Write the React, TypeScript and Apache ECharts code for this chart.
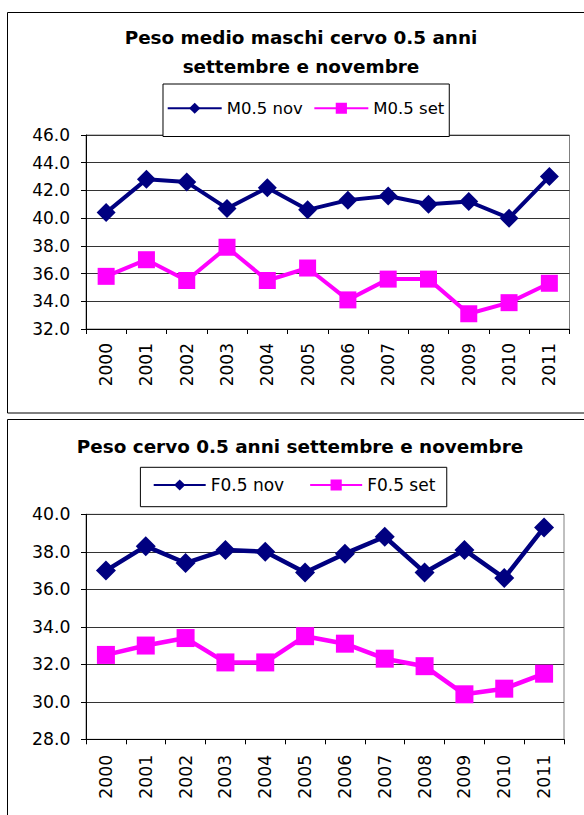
import React, { useEffect, useRef } from 'react';
import * as echarts from 'echarts';

const years = ['2000', '2001', '2002', '2003', '2004', '2005', '2006', '2007', '2008', '2009', '2010', '2011'];

const m05NovName = 'M0.5 nov';
const m05SetName = 'M0.5 set';
const m05Nov = [40.4, 42.8, 42.6, 40.7, 42.2, 40.6, 41.3, 41.6, 41.0, 41.2, 40.0, 43.0];
const m05Set = [35.8, 37.0, 35.5, 37.9, 35.5, 36.4, 34.1, 35.6, 35.6, 33.1, 33.9, 35.3];

const f05NovName = 'F0.5 nov';
const f05SetName = 'F0.5 set';
const f05Nov = [37.0, 38.3, 37.4, 38.1, 38.0, 36.9, 37.9, 38.8, 36.9, 38.1, 36.6, 39.3];
const f05Set = [32.5, 33.0, 33.4, 32.1, 32.1, 33.5, 33.1, 32.3, 31.9, 30.4, 30.7, 31.5];

const topTitle = 'Peso medio maschi cervo 0.5 anni\nsettembre e novembre';
const bottomTitle = 'Peso cervo 0.5 anni settembre e novembre';

const topYMin = 32;
const topYMax = 46;
const bottomYMin = 28;
const bottomYMax = 40;
const yStep = 2;

const NAVY = '#000080';
const MAGENTA = '#FF00FF';
const FONT = 'DejaVu Sans';

export default function App() {
  const ref = useRef<HTMLDivElement>(null);

  useEffect(() => {
    if (!ref.current) return;
    const chart = echarts.init(ref.current, null, { renderer: 'svg' });

    const mkX = (gridIndex: number, margin: number, fontSize: number) => ({
      type: 'category',
      gridIndex,
      data: years,
      boundaryGap: true,
      axisLine: { show: true, lineStyle: { color: '#000', width: 1 } },
      axisTick: { show: true, alignWithLabel: false, length: 5, lineStyle: { color: '#000' } },
      axisLabel: { rotate: 90, margin, interval: 0, fontFamily: FONT, fontSize, color: '#000' },
      splitLine: { show: false },
    });

    const mkY = (gridIndex: number, min: number, max: number, margin: number, fontSize: number) => ({
      type: 'value',
      gridIndex,
      min,
      max,
      interval: yStep,
      axisLine: { show: true, lineStyle: { color: '#000', width: 1 } },
      axisTick: { show: true, length: 5, lineStyle: { color: '#000' } },
      axisLabel: {
        margin,
        fontFamily: FONT,
        fontSize,
        color: '#000',
        formatter: (v: number) => v.toFixed(1),
      },
      splitLine: { show: true, lineStyle: { color: '#333', width: 1 } },
    });

    const mkSeries = (
      name: string,
      data: number[],
      idx: number,
      color: string,
      symbol: string,
      size: number,
      width: number
    ) => ({
      type: 'line',
      name,
      data,
      xAxisIndex: idx,
      yAxisIndex: idx,
      symbol,
      symbolSize: size,
      showAllSymbol: true,
      lineStyle: { color, width },
      itemStyle: { color, borderWidth: 0 },
      emphasis: { disabled: true },
    });

    chart.setOption({
      animation: false,
      backgroundColor: '#fff',
      grid: [
        { left: 86, top: 135, width: 483.5, height: 194, show: true, borderColor: '#808080', borderWidth: 1, backgroundColor: 'transparent' },
        { left: 86, top: 514.3, width: 478, height: 225, show: true, borderColor: '#808080', borderWidth: 1, backgroundColor: 'transparent' },
      ],
      xAxis: [mkX(0, 14, 17), mkX(1, 15.5, 17.3)],
      yAxis: [mkY(0, topYMin, topYMax, 16, 17), mkY(1, bottomYMin, bottomYMax, 15.5, 17.3)],
      legend: [
        {
          data: [m05NovName, m05SetName],
          left: 163,
          top: 84,
          orient: 'horizontal',
          itemWidth: 54,
          itemHeight: 14,
          itemGap: 10.6,
          padding: [15.75, 5, 19.75, 3.7],
          borderColor: '#000',
          borderWidth: 1,
          backgroundColor: '#fff',
          textStyle: { fontFamily: FONT, fontSize: 16.5, color: '#000' },
          selectedMode: false,
          z: 10,
        },
        {
          data: [f05NovName, f05SetName],
          left: 140.4,
          top: 467.3,
          orient: 'horizontal',
          itemWidth: 52,
          itemHeight: 14,
          itemGap: 25,
          padding: [9.2, 11.4, 13.2, 12.3],
          borderColor: '#000',
          borderWidth: 1,
          backgroundColor: '#fff',
          textStyle: { fontFamily: FONT, fontSize: 17, color: '#000' },
          selectedMode: false,
          z: 10,
        },
      ],
      graphic: [
        {
          type: 'rect',
          shape: { x: 7.5, y: 12.5, width: 600, height: 400.5 },
          style: { fill: 'none', stroke: '#000', lineWidth: 1 },
          silent: true,
          z: -10,
        },
        {
          type: 'rect',
          shape: { x: 7.5, y: 419.5, width: 600, height: 420 },
          style: { fill: 'none', stroke: '#000', lineWidth: 1 },
          silent: true,
          z: -10,
        },
        {
          type: 'text',
          x: 301,
          y: 52,
          style: {
            text: topTitle,
            align: 'center',
            verticalAlign: 'middle',
            fontFamily: FONT,
            fontWeight: 'bold',
            fontSize: 18.4,
            lineHeight: 29,
            fill: '#000',
          },
        },
        {
          type: 'text',
          x: 300,
          y: 446,
          style: {
            text: bottomTitle,
            align: 'center',
            verticalAlign: 'middle',
            fontFamily: FONT,
            fontWeight: 'bold',
            fontSize: 18.4,
            fill: '#000',
          },
        },
      ],
      series: [
        mkSeries(m05NovName, m05Nov, 0, NAVY, 'diamond', 19, 4),
        mkSeries(m05SetName, m05Set, 0, MAGENTA, 'rect', 17, 4),
        mkSeries(f05NovName, f05Nov, 1, NAVY, 'diamond', 20, 4.5),
        mkSeries(f05SetName, f05Set, 1, MAGENTA, 'rect', 18, 4.5),
      ],
    });

    return () => {
      chart.dispose();
    };
  }, []);

  return (
    <div
      ref={ref}
      style={{ position: 'fixed', left: 0, top: 0, width: 584, height: 815, background: '#fff' }}
    />
  );
}
